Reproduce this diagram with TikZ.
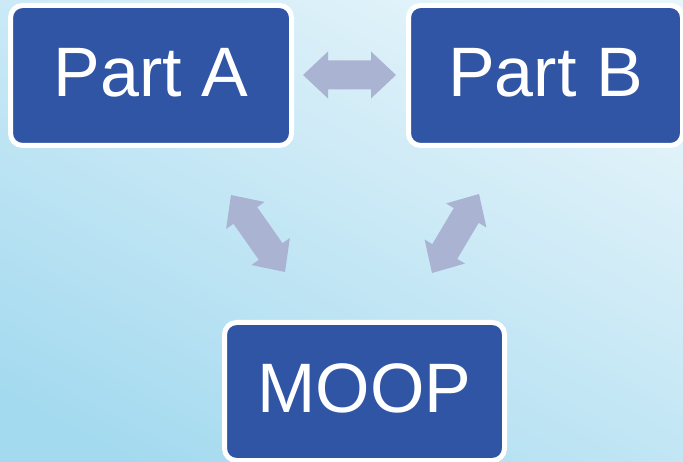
\documentclass[tikz,border=0pt]{standalone}
\usepackage{fontspec}
\setmainfont{Liberation Sans}
\usetikzlibrary{calc}
\definecolor{boxblue}{HTML}{3155A5}
\definecolor{arrowfill}{HTML}{ABB3D2}
\definecolor{bglight}{HTML}{E8F5FB}
\definecolor{bgdark}{HTML}{A4DAEF}
% double-headed block arrow between two named coordinates
\newcommand\bidirarrow[2]{%
  \coordinate (ha) at ($(#1)!25pt!(#2)$);
  \coordinate (hb) at ($(#2)!25pt!(#1)$);
  \fill[arrowfill] (#1)
    -- ($(ha)!23.5pt!90:(#2)$) -- ($(ha)!14.5pt!90:(#2)$)
    -- ($(hb)!14.5pt!-90:(#1)$) -- ($(hb)!23.5pt!-90:(#1)$)
    -- (#2)
    -- ($(hb)!23.5pt!90:(#1)$) -- ($(hb)!14.5pt!90:(#1)$)
    -- ($(ha)!14.5pt!-90:(#2)$) -- ($(ha)!23.5pt!-90:(#2)$)
    -- cycle;}
\begin{document}
\begin{tikzpicture}[x=1pt,y=-1pt,
  box/.style={draw=white, line width=5pt, fill=boxblue, rounded corners=12pt,
    text=white, font=\fontsize{70}{84}\selectfont, inner sep=0pt, text depth=6pt}]
\useasboundingbox (0,0) rectangle (683,462);
\clip (0,0) rectangle (683,462);
\shade[bottom color=bgdark, top color=bglight, shading angle=-28] (-40,-30) rectangle (723,492);
\node[box, minimum width=281pt, minimum height=140pt] (partA) at (151,75.5) {Part A};
\node[box, minimum width=274pt, minimum height=140pt] (partB) at (545.5,75.5) {Part B};
\node[box, minimum width=280pt, minimum height=138pt] (moop) at (364.5,391.5) {MOOP};
\coordinate (h1) at (303,75);
\coordinate (h2) at (396,75);
\coordinate (l1) at (231,195);
\coordinate (l2) at (285,272);
\coordinate (r1) at (479,194);
\coordinate (r2) at (432,273);
\bidirarrow{h1}{h2}
\bidirarrow{l1}{l2}
\bidirarrow{r1}{r2}
\end{tikzpicture}
\end{document}
